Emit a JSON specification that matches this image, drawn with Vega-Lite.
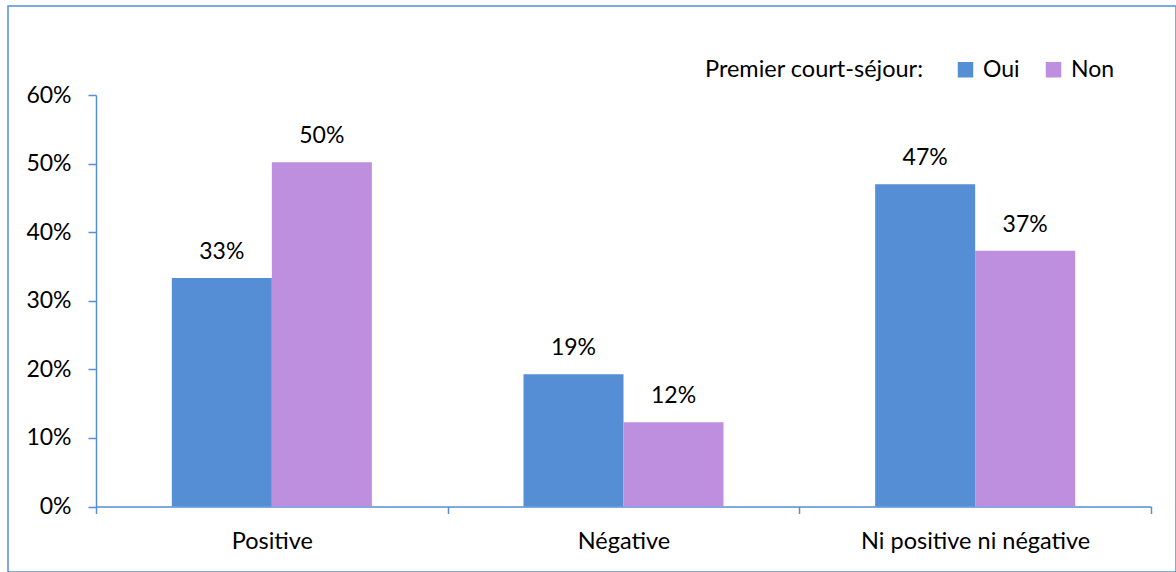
{
  "$schema": "https://vega.github.io/schema/vega-lite/v6.json",
  "width": 1168,
  "height": 566,
  "autosize": "none",
  "padding": {"left": 8, "top": 6, "right": 0, "bottom": 0},
  "background": "white",
  "config": {
    "font": "Lato",
    "view": {"stroke": "#558ED5", "strokeWidth": 1.5}
  },
  "data": {
    "values": [
      {"appreciation": "Positive", "premier": "Oui", "part": 0.333},
      {"appreciation": "Positive", "premier": "Non", "part": 0.502},
      {"appreciation": "Négative", "premier": "Oui", "part": 0.193},
      {"appreciation": "Négative", "premier": "Non", "part": 0.123},
      {"appreciation": "Ni positive ni négative", "premier": "Oui", "part": 0.470},
      {"appreciation": "Ni positive ni négative", "premier": "Non", "part": 0.373}
    ]
  },
  "encoding": {
    "x": {
      "field": "appreciation",
      "type": "nominal",
      "sort": ["Positive", "Négative", "Ni positive ni négative"],
      "scale": {"range": [88, 1143], "paddingInner": 0, "paddingOuter": 0},
      "axis": {
        "title": null,
        "orient": "bottom",
        "offset": -65.5,
        "labelAngle": 0,
        "labelLimit": 0,
        "tickBand": "extent",
        "tickSize": 7,
        "tickColor": "#558ED5",
        "tickWidth": 1.5,
        "domainColor": "#558ED5",
        "domainWidth": 1.5,
        "labelFontSize": 23.5,
        "labelColor": "#000000",
        "labelPadding": 16,
        "grid": false
      }
    },
    "xOffset": {
      "field": "premier",
      "type": "nominal",
      "sort": ["Oui", "Non"],
      "scale": {"paddingInner": 0, "paddingOuter": 0.758}
    },
    "y": {
      "field": "part",
      "type": "quantitative",
      "scale": {"domain": [0, 0.6], "range": [500.5, 89], "nice": false},
      "axis": {
        "title": null,
        "orient": "left",
        "offset": -88,
        "values": [0, 0.1, 0.2, 0.3, 0.4, 0.5, 0.6],
        "format": ".0%",
        "tickSize": 8,
        "tickColor": "#558ED5",
        "tickWidth": 1.5,
        "domainColor": "#558ED5",
        "domainWidth": 1.5,
        "labelFontSize": 23,
        "labelColor": "#000000",
        "labelPadding": 17,
        "grid": false
      }
    }
  },
  "layer": [
    {
      "mark": {"type": "bar"},
      "encoding": {
        "color": {
          "field": "premier",
          "type": "nominal",
          "sort": ["Oui", "Non"],
          "scale": {"domain": ["Oui", "Non"], "range": ["#558ED5", "#BE8FDE"]},
          "legend": {
            "title": "Premier court-séjour:",
            "orient": "none",
            "direction": "horizontal",
            "titleOrient": "left",
            "legendX": 697,
            "legendY": 52,
            "titleFontSize": 23.5,
            "titleFontWeight": "normal",
            "titleColor": "#000000",
            "titleLimit": 0,
            "titlePadding": 30,
            "titleBaseline": "middle",
            "labelFontSize": 23,
            "labelColor": "#000000",
            "labelLimit": 0,
            "labelOffset": 6,
            "symbolType": "square",
            "symbolSize": 240,
            "symbolStrokeWidth": 0,
            "symbolOpacity": 1,
            "columnPadding": 22,
            "padding": 0
          }
        }
      }
    },
    {
      "mark": {"type": "text", "baseline": "alphabetic", "dy": -19, "fontSize": 23, "color": "#000000"},
      "encoding": {
        "text": {"field": "part", "type": "quantitative", "format": ".0%"}
      }
    }
  ]
}
